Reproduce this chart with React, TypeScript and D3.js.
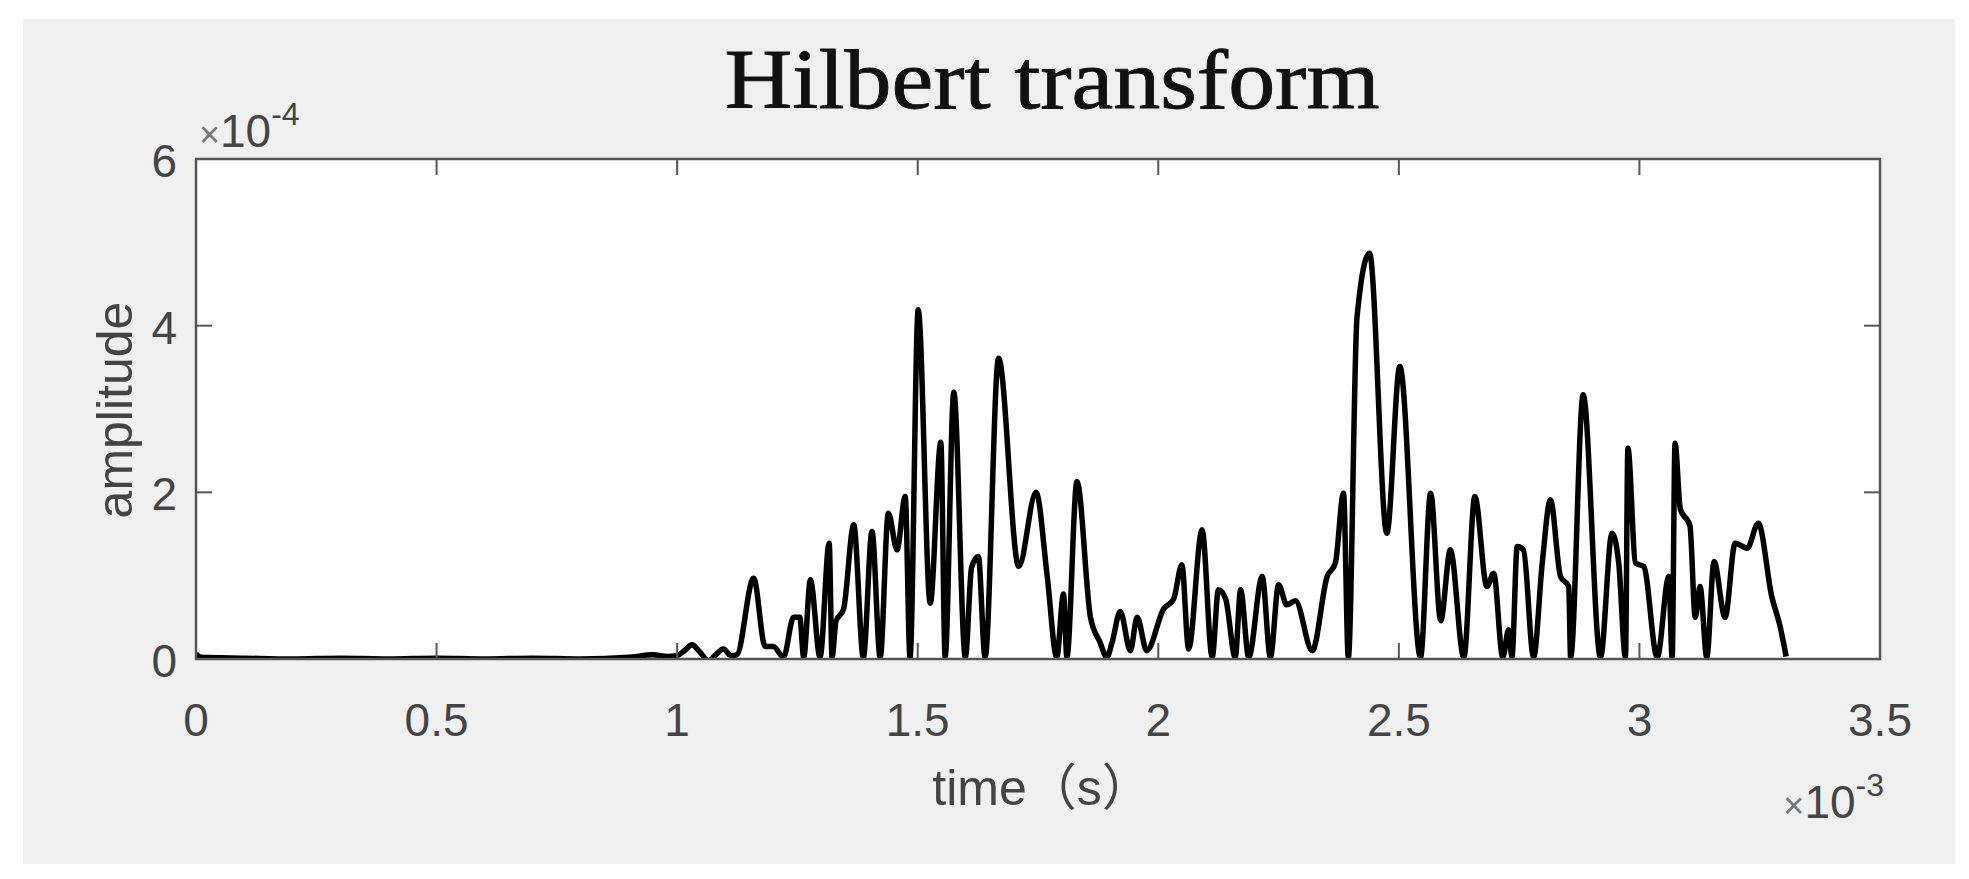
import React from "react";
import * as d3 from "d3";

const width = 1969;
const height = 879;

// time in units of 1e-3 s, amplitude in units of 1e-4
const times = [
  0, 0.01, 0.1, 0.2, 0.3, 0.4, 0.5, 0.6, 0.7, 0.8, 0.9, 0.95, 0.98, 1.0,
  1.015, 1.031, 1.045, 1.065, 1.08, 1.096, 1.112, 1.124, 1.159, 1.183, 1.2,
  1.221, 1.242, 1.255, 1.263, 1.277, 1.297, 1.316, 1.322, 1.33, 1.346, 1.367,
  1.387, 1.405, 1.422, 1.439, 1.457, 1.474, 1.484, 1.501, 1.526, 1.548, 1.557,
  1.575, 1.599, 1.612, 1.626, 1.64, 1.668, 1.71, 1.746, 1.769, 1.789, 1.803,
  1.81, 1.831, 1.859, 1.879, 1.893, 1.904, 1.921, 1.942, 1.956, 1.976, 2.011,
  2.032, 2.049, 2.063, 2.091, 2.112, 2.125, 2.14, 2.16, 2.171, 2.188, 2.216,
  2.233, 2.25, 2.267, 2.285, 2.32, 2.351, 2.368, 2.385, 2.395, 2.413, 2.439,
  2.475, 2.502, 2.545, 2.566, 2.587, 2.607, 2.635, 2.658, 2.683, 2.697, 2.716,
  2.728, 2.735, 2.746, 2.759, 2.78, 2.798, 2.815, 2.836, 2.853, 2.857, 2.883,
  2.919, 2.943, 2.957, 2.971, 2.976, 2.992, 3.009, 3.037, 3.061, 3.068, 3.074,
  3.085, 3.105, 3.116, 3.126, 3.14, 3.155, 3.178, 3.199, 3.224, 3.247, 3.275,
  3.292, 3.305,
];
const amplitudes = [
  0.06, 0.02, 0.01, 0.0, 0.01, 0.0, 0.01, 0.0, 0.01, 0.0, 0.02, 0.05, 0.03, 0.04,
  0.1, 0.17, 0.1, -0.02, 0.05, 0.12, 0.04, 0.05, 0.97, 0.15, 0.15,
  0.02, 0.5, 0.5, 0.02, 0.95, 0.02, 1.39, 0.02, 0.45, 0.6, 1.61,
  0.02, 1.53, 0.02, 1.75, 1.31, 1.95, 0.02, 4.19, 0.67, 2.6, 0.02,
  3.2, 0.02, 1.1, 1.23, 0.02, 3.61, 1.11, 2.0, 1.0, 0.02, 0.78,
  0.02, 2.13, 0.5, 0.2, 0.02, 0.2, 0.57, 0.1, 0.5, 0.1, 0.6,
  0.72, 1.13, 0.12, 1.55, 0.02, 0.83, 0.72, 0.02, 0.83, 0.02, 0.99,
  0.02, 0.89, 0.65, 0.7, 0.1, 0.99, 1.15, 1.99, 0.02, 4.1, 4.87,
  1.51, 3.51, 0.02, 1.99, 0.46, 1.31, 0.02, 1.95, 0.87, 1.03, 0.02,
  0.35, 0.02, 1.35, 1.31, 0.02, 1.15, 1.91, 0.99, 0.87, 0.02, 3.17,
  0.02, 1.51, 1.15, 0.02, 2.53, 1.15, 1.11, 0.02, 0.99, 0.02, 2.59,
  1.8, 1.6, 0.5, 0.87, 0.02, 1.17, 0.5, 1.39, 1.33, 1.63, 0.75,
  0.4, 0.03,
];

const xTicks = [0, 0.5, 1, 1.5, 2, 2.5, 3, 3.5];
const xTickLabels = ["0", "0.5", "1", "1.5", "2", "2.5", "3", "3.5"];
const yTicks = [0, 2, 4, 6];
const yTickLabels = ["0", "2", "4", "6"];

const left = 196;
const right = 1880;
const top = 159;
const bottom = 659;
const tickLen = 16;
const axisColor = "#555";
const textColor = "#444";
const sans = "'Liberation Sans', Arial, Helvetica, sans-serif";

export default function App() {
  const x = d3.scaleLinear().domain([0, 3.5]).range([left, right]);
  const y = d3.scaleLinear().domain([0, 6]).range([bottom, top]);

  const points = times.map((t, i) => ({ t, a: amplitudes[i] }));
  const line = d3
    .line<{ t: number; a: number }>()
    .x((d) => x(d.t))
    .y((d) => y(d.a))
    .curve(d3.curveMonotoneX);

  return (
    <svg
      width={width}
      height={height}
      style={{ position: "absolute", left: 0, top: 0, background: "#fff" }}
    >
      <defs>
        <clipPath id="plot">
          <rect x={left} y={top} width={right - left} height={bottom - top} />
        </clipPath>
      </defs>
      <rect x={23} y={19} width={1932} height={845} fill="#f0f0f0" />
      <rect x={left} y={top} width={right - left} height={bottom - top} fill="#fff" />

      <path
        d={line(points) || ""}
        fill="none"
        stroke="#000"
        strokeWidth={5.5}
        strokeLinejoin="round"
        clipPath="url(#plot)"
      />

      {/* box and ticks */}
      <rect
        x={left}
        y={top}
        width={right - left}
        height={bottom - top}
        fill="none"
        stroke={axisColor}
        strokeWidth={2.5}
      />
      {xTicks.map((t) => (
        <g key={"xt" + t} stroke={axisColor} strokeWidth={2}>
          <line x1={x(t)} x2={x(t)} y1={bottom} y2={bottom - tickLen} />
          <line x1={x(t)} x2={x(t)} y1={top} y2={top + tickLen} />
        </g>
      ))}
      {yTicks.map((v) => (
        <g key={"yt" + v} stroke={axisColor} strokeWidth={2}>
          <line x1={left} x2={left + tickLen} y1={y(v)} y2={y(v)} />
          <line x1={right} x2={right - tickLen} y1={y(v)} y2={y(v)} />
        </g>
      ))}

      {/* tick labels */}
      <g fontFamily={sans} fontSize={46} fill={textColor}>
        {xTicks.map((t, i) => (
          <text key={"xl" + t} x={x(t)} y={736} textAnchor="middle">
            {xTickLabels[i]}
          </text>
        ))}
        {yTicks.map((v, i) => (
          <text key={"yl" + v} x={177} y={y(v) + 18} textAnchor="end">
            {yTickLabels[i]}
          </text>
        ))}
        <text x={199} y={147}>
          <tspan fontSize={36} fill="#777">×</tspan>
          <tspan>10</tspan>
          <tspan fontSize={32} dy={-22}>-4</tspan>
        </text>
        <text x={1884} y={818} textAnchor="end">
          <tspan fontSize={36} fill="#777">×</tspan>
          <tspan>10</tspan>
          <tspan fontSize={32} dy={-22}>-3</tspan>
        </text>
      </g>

      {/* axis labels */}
      <text
        x={1042}
        y={805}
        textAnchor="middle"
        fontFamily={sans + ", 'Noto Sans CJK SC'"}
        fontSize={50}
        fill={textColor}
      >
        time（s）
      </text>
      <text
        transform="translate(132,410) rotate(-90)"
        textAnchor="middle"
        fontFamily={sans}
        fontSize={50}
        fill={textColor}
      >
        amplitude
      </text>

      {/* title */}
      <text
        x={1052}
        y={108}
        textAnchor="middle"
        fontFamily="'Liberation Serif', 'Times New Roman', serif"
        fontSize={84}
        textLength={655}
        lengthAdjust="spacingAndGlyphs"
        fill="#111"
        stroke="#111"
        strokeWidth={0.8}
      >
        Hilbert transform
      </text>
    </svg>
  );
}
